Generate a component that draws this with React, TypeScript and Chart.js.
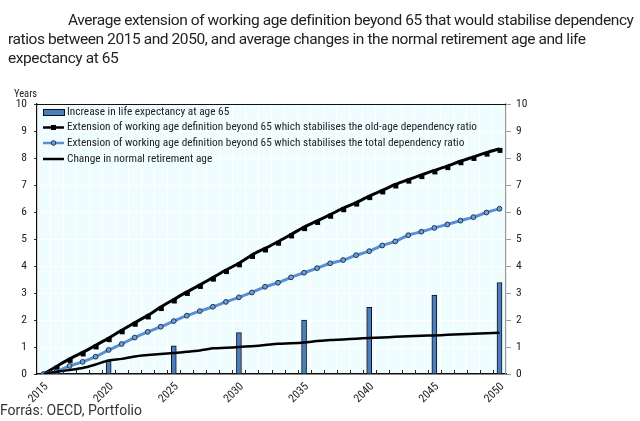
import React, { useEffect, useRef } from "react";
import { Chart, registerables } from "chart.js";

Chart.register(...registerables);

const years = [
  "2015", "2016", "2017", "2018", "2019", "2020", "2021", "2022", "2023", "2024",
  "2025", "2026", "2027", "2028", "2029", "2030", "2031", "2032", "2033", "2034",
  "2035", "2036", "2037", "2038", "2039", "2040", "2041", "2042", "2043", "2044",
  "2045", "2046", "2047", "2048", "2049", "2050",
];

const lifeExpectancy = [
  null, null, null, null, null, 0.49, null, null, null, null,
  1.04, null, null, null, null, 1.53, null, null, null, null,
  2.0, null, null, null, null, 2.47, null, null, null, null,
  2.92, null, null, null, null, 3.39,
];

const oldAgeRatio = [
  0, 0.28, 0.56, 0.8, 1.06, 1.33, 1.62, 1.9, 2.17, 2.48,
  2.76, 3.04, 3.3, 3.57, 3.85, 4.1, 4.41, 4.65, 4.9, 5.17,
  5.44, 5.67, 5.9, 6.14, 6.35, 6.59, 6.8, 7.02, 7.2, 7.37,
  7.54, 7.7, 7.88, 8.04, 8.2, 8.34,
];

const totalRatio = [
  0, 0.09, 0.3, 0.45, 0.64, 0.89, 1.11, 1.35, 1.56, 1.75,
  1.96, 2.16, 2.33, 2.49, 2.67, 2.84, 3.02, 3.23, 3.38, 3.58,
  3.75, 3.92, 4.1, 4.22, 4.4, 4.55, 4.76, 4.91, 5.14, 5.27,
  5.41, 5.54, 5.68, 5.81, 5.98, 6.12,
];

const retirementAge = [
  0, 0.08, 0.15, 0.22, 0.35, 0.5, 0.56, 0.65, 0.7, 0.74,
  0.78, 0.82, 0.87, 0.95, 0.97, 1.0, 1.03, 1.07, 1.12, 1.14,
  1.17, 1.22, 1.26, 1.28, 1.31, 1.33, 1.35, 1.38, 1.4, 1.42,
  1.43, 1.45, 1.47, 1.49, 1.51, 1.53,
];

const yTicks = [0, 1, 2, 3, 4, 5, 6, 7, 8, 9, 10];

const legendLabels = [
  "Increase in life expectancy at age 65",
  "Extension of working age definition beyond 65 which stabilises the old-age dependency ratio",
  "Extension of working age definition beyond 65 which stabilises the total dependency ratio",
  "Change in normal retirement age",
];

const titleLines = [
  "Average extension of working age definition beyond 65 that would stabilise dependency",
  "ratios between 2015 and 2050, and average changes in the normal retirement age and life",
  "expectancy at 65",
];
const sourceText = "Forrás: OECD, Portfolio";

const BAR_FILL = "#4a7ebf";
const BLUE_LINE = "#5b8fd4";
const CIRCLE_FILL = "#6d9fd9";
const CIRCLE_BORDER = "#1d3557";
const PLOT_BG = "#effdff";
const TEXT = "#222";
const SMALL_FONT = "'Roboto Condensed', Roboto, sans-serif";
const BIG_FONT = "Roboto, sans-serif";

// square marker sprite: the square sits slightly below the line, as in the source
function makeSquareSprite(): HTMLCanvasElement {
  const c = document.createElement("canvas");
  c.width = 14;
  c.height = 14;
  const g = c.getContext("2d")!;
  g.fillStyle = "#000";
  g.fillRect(5, 6, 5, 5);
  return c;
}

const decorPlugin = {
  id: "decor",
  beforeDraw(chart: any) {
    const { ctx, chartArea } = chart;
    ctx.save();
    ctx.fillStyle = PLOT_BG;
    ctx.fillRect(chartArea.left, chartArea.top, chartArea.right - chartArea.left, chartArea.bottom - chartArea.top);
    ctx.restore();
  },
  afterDraw(chart: any) {
    const { ctx, chartArea } = chart;
    const xs = chart.scales.x;
    ctx.save();
    ctx.strokeStyle = "#111";
    ctx.lineWidth = 1.2;
    ctx.beginPath();
    ctx.moveTo(chartArea.left, chartArea.top + 0.5);
    ctx.lineTo(chartArea.right, chartArea.top + 0.5);
    ctx.stroke();
    const n = years.length;
    const step = (xs.right - xs.left) / n;
    ctx.lineWidth = 1;
    ctx.strokeStyle = "#222";
    for (let i = 1; i < n; i++) {
      const x = Math.round(xs.left + i * step) + 0.5;
      ctx.beginPath();
      ctx.moveTo(x, chartArea.bottom);
      ctx.lineTo(x, chartArea.bottom - 4);
      ctx.stroke();
    }
    ctx.fillStyle = TEXT;
    ctx.font = `10.5px ${SMALL_FONT}`;
    ctx.textAlign = "left";
    ctx.textBaseline = "middle";
    ctx.fillText("Years", chartArea.left - 23, chartArea.top - 10);

    const lx = chartArea.left + 6;
    const symW = 21;
    const tx = chartArea.left + 30;
    const rows = [8, 23.5, 39, 55];
    ctx.font = `11.3px ${SMALL_FONT}`;
    legendLabels.forEach((label, i) => {
      const y = chartArea.top + rows[i];
      if (i === 0) {
        ctx.fillStyle = BAR_FILL;
        ctx.fillRect(lx, y - 3, symW, 6);
        ctx.strokeStyle = "#111";
        ctx.lineWidth = 1;
        ctx.strokeRect(lx + 0.5, y - 3 + 0.5, symW, 6);
      } else {
        ctx.strokeStyle = i === 2 ? BLUE_LINE : "#000";
        ctx.lineWidth = 2.5;
        ctx.beginPath();
        ctx.moveTo(lx, y);
        ctx.lineTo(lx + symW, y);
        ctx.stroke();
        if (i === 1) {
          ctx.fillStyle = "#000";
          ctx.fillRect(lx + symW / 2 - 2.5, y - 2.5, 5, 5);
        } else if (i === 2) {
          ctx.fillStyle = CIRCLE_FILL;
          ctx.strokeStyle = CIRCLE_BORDER;
          ctx.lineWidth = 1;
          ctx.beginPath();
          ctx.arc(lx + symW / 2, y, 2.3, 0, Math.PI * 2);
          ctx.fill();
          ctx.stroke();
        }
      }
      ctx.fillStyle = TEXT;
      ctx.textBaseline = "middle";
      ctx.fillText(label, tx, y);
    });
    ctx.restore();
  },
};

export default function App() {
  const canvasRef = useRef<HTMLCanvasElement | null>(null);

  useEffect(() => {
    if (!canvasRef.current) return;
    const squareSprite = makeSquareSprite();
    const chart = new Chart(canvasRef.current, {
      type: "bar",
      data: {
        labels: years,
        datasets: [
          {
            type: "bar",
            label: legendLabels[0],
            data: lifeExpectancy as any,
            backgroundColor: BAR_FILL,
            borderColor: "#111",
            borderWidth: 1,
            barThickness: 5,
            order: 10,
          },
          {
            type: "line",
            label: legendLabels[1],
            data: oldAgeRatio,
            borderColor: "#000",
            borderWidth: 3,
            pointStyle: squareSprite as any,
            pointRadius: 3.5,
            tension: 0.2,
            order: 3,
          },
          {
            type: "line",
            label: legendLabels[2],
            data: totalRatio,
            borderColor: BLUE_LINE,
            borderWidth: 3,
            pointStyle: "circle",
            pointRadius: 2.4,
            pointBackgroundColor: CIRCLE_FILL,
            pointBorderColor: CIRCLE_BORDER,
            pointBorderWidth: 1,
            tension: 0.3,
            order: 2,
          },
          {
            type: "line",
            label: legendLabels[3],
            data: retirementAge,
            borderColor: "#000",
            borderWidth: 2.5,
            pointRadius: 0,
            tension: 0.3,
            order: 1,
          },
        ],
      },
      options: {
        responsive: false,
        animation: false,
        layout: { padding: { top: 104, left: 0, right: 0, bottom: 0 } },
        plugins: {
          legend: { display: false },
          tooltip: { enabled: false },
        },
        scales: {
          x: {
            offset: true,
            grid: {
              offset: true,
              color: "rgba(255,255,255,0.95)",
              lineWidth: 1,
              drawTicks: false,
            },
            border: { color: "#111", width: 1.5 },
            ticks: {
              autoSkip: false,
              minRotation: 45,
              maxRotation: 45,
              padding: 6,
              labelOffset: 3,
              color: TEXT,
              font: { size: 11.5, family: SMALL_FONT },
              callback: (_v: any, i: number) => (Number(years[i]) % 5 === 0 ? years[i] : ""),
            },
            afterFit: (s: any) => {
              s.height = 47;
            },
          },
          y: {
            position: "left",
            min: 0,
            max: 10,
            afterBuildTicks: (s: any) => {
              s.ticks = yTicks.map((v) => ({ value: v }));
            },
            grid: {
              color: "rgba(255,255,255,0.95)",
              tickColor: "#333",
              tickLength: 3,
            },
            border: { color: "#111", width: 1.2 },
            ticks: {
              padding: 7,
              color: TEXT,
              font: { size: 11.5, family: SMALL_FONT },
            },
            afterFit: (s: any) => {
              s.width = 37;
            },
          },
          y2: {
            position: "right",
            min: 0,
            max: 10,
            afterBuildTicks: (s: any) => {
              s.ticks = yTicks.map((v) => ({ value: v }));
            },
            grid: {
              drawOnChartArea: false,
              tickColor: "#999",
              tickLength: 5,
            },
            border: { color: "#999", width: 1.2 },
            ticks: {
              padding: 5,
              color: TEXT,
              font: { size: 11.5, family: SMALL_FONT },
            },
            afterFit: (s: any) => {
              s.width = 134;
            },
          },
        },
      },
      plugins: [decorPlugin],
    });
    return () => chart.destroy();
  }, []);

  return (
    <div
      style={{
        position: "fixed",
        left: 0,
        top: 0,
        width: 640,
        height: 421,
        background: "#fff",
        overflow: "hidden",
      }}
    >
      <canvas ref={canvasRef} width={640} height={421} style={{ position: "absolute", left: 0, top: 0 }} />
      <div
        style={{
          position: "absolute",
          left: 8,
          top: 11,
          fontFamily: BIG_FONT,
          fontSize: 15.5,
          letterSpacing: "-0.42px",
          lineHeight: "19px",
          color: "#222",
          whiteSpace: "nowrap",
        }}
      >
        <div style={{ paddingLeft: 60 }}>{titleLines[0]}</div>
        <div>{titleLines[1]}</div>
        <div>{titleLines[2]}</div>
      </div>
      <div
        style={{
          position: "absolute",
          left: 0,
          top: 402,
          fontFamily: BIG_FONT,
          fontSize: 14,
          lineHeight: "16px",
          color: "#333",
        }}
      >
        {sourceText}
      </div>
    </div>
  );
}
